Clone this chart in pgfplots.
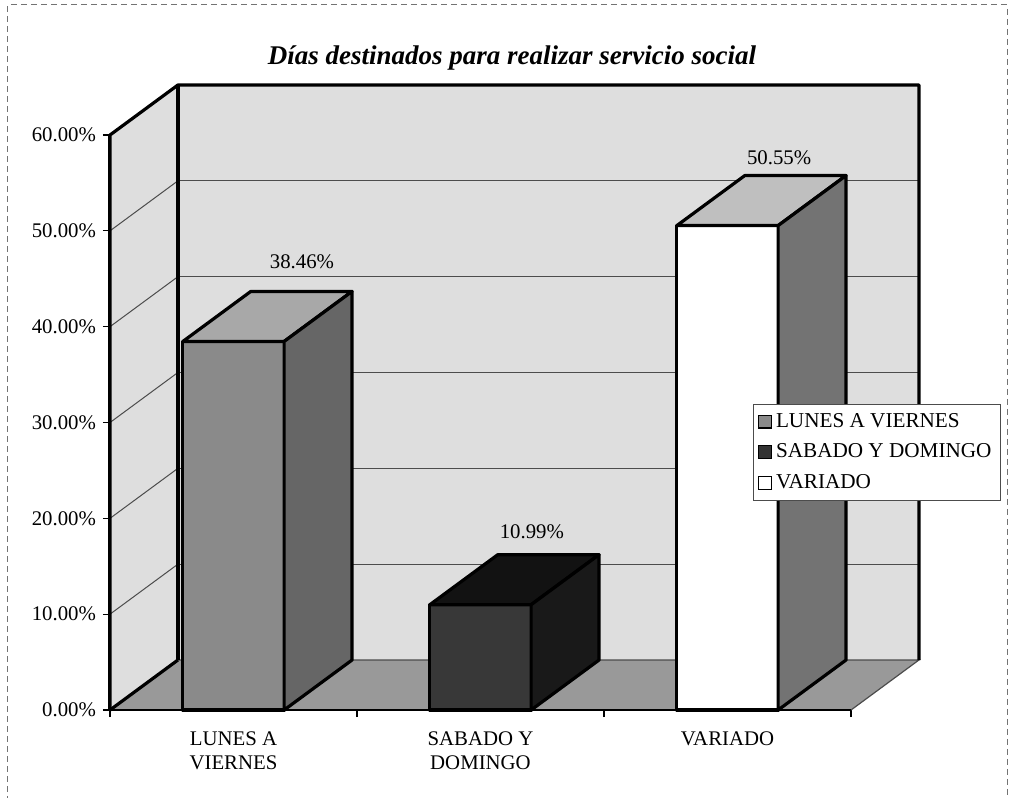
\documentclass[border=0pt]{standalone}
\usepackage{pgfplots}
\pgfplotsset{compat=1.18}
\usepackage{fontspec}
\setmainfont{Liberation Serif}
\definecolor{wall}{gray}{0.87}
\definecolor{floorc}{gray}{0.60}
\begin{document}
\begin{tikzpicture}
\begin{axis}[
  x=123.5pt, y=4.7917pt,
  xmin=0.5, xmax=3.5, ymin=0, ymax=60,
  clip=false,
  axis x line*=bottom, axis y line*=left,
  x axis line style={black, line width=0.6pt},
  y axis line style={black, line width=1.5pt},
  tick align=outside,
  major tick length=3.5pt,
  tick style={black, line width=0.6pt},
  xtick={0.5,1.5,2.5,3.5}, xticklabels={},
  extra x ticks={1,2,3},
  extra x tick labels={{LUNES A\\VIERNES},{SABADO Y\\DOMINGO},{VARIADO}},
  extra x tick style={major tick length=0pt, tick label style={align=center, font=\fontsize{10.4}{11.6}\selectfont, yshift=-7.5pt}},
  ytick={0,10,20,30,40,50,60},
  yticklabel={\pgfmathprintnumber[fixed,fixed zerofill,precision=2]{\tick}\%},
  /pgf/number format/assume math mode=true,
  yticklabel style={font=\fontsize{10.4}{12}\selectfont},
  legend style={at={(axis cs:3.103,31.93)}, anchor=north west, draw=black!70, line width=0.5pt, font=\fontsize{10.6}{12.5}\selectfont, inner sep=2.3pt, row sep=2.8pt, cells={anchor=west}},
  legend image code/.code={\draw[#1, line width=0.6pt] (0pt,-3.2pt) rectangle (6.4pt,3.2pt);},
]
% legend
\addlegendimage{fill=black!46, draw=black}
\addlegendentry{LUNES A VIERNES}
\addlegendimage{fill=black!80, draw=black}
\addlegendentry{SABADO Y DOMINGO}
\addlegendimage{fill=white, draw=black}
\addlegendentry{VARIADO}

% walls and floor
\addplot[forget plot, fill=wall, draw=none] coordinates {(0.5,0) (0.5,60) (0.775,65.22) (0.775,5.22)} -- cycle;
\addplot[forget plot, fill=wall, draw=none] coordinates {(0.775,5.22) (3.775,5.22) (3.775,65.22) (0.775,65.22)} -- cycle;
\addplot[forget plot, fill=floorc, draw=none] coordinates {(0.5,0) (3.5,0) (3.775,5.22) (0.775,5.22)} -- cycle;

% gridlines on back wall and left wall
\addplot[forget plot, black!70, line width=0.5pt] coordinates {(0.775,15.22) (3.775,15.22)};
\addplot[forget plot, black!70, line width=0.5pt] coordinates {(0.775,25.22) (3.775,25.22)};
\addplot[forget plot, black!70, line width=0.5pt] coordinates {(0.775,35.22) (3.775,35.22)};
\addplot[forget plot, black!70, line width=0.5pt] coordinates {(0.775,45.22) (3.775,45.22)};
\addplot[forget plot, black!70, line width=0.5pt] coordinates {(0.775,55.22) (3.775,55.22)};
\addplot[forget plot, black!70, line width=0.5pt] coordinates {(0.5,10) (0.775,15.22)};
\addplot[forget plot, black!70, line width=0.5pt] coordinates {(0.5,20) (0.775,25.22)};
\addplot[forget plot, black!70, line width=0.5pt] coordinates {(0.5,30) (0.775,35.22)};
\addplot[forget plot, black!70, line width=0.5pt] coordinates {(0.5,40) (0.775,45.22)};
\addplot[forget plot, black!70, line width=0.5pt] coordinates {(0.5,50) (0.775,55.22)};
% floor edges
\addplot[forget plot, black!70, line width=0.6pt] coordinates {(0.775,5.22) (3.775,5.22) (3.5,0)};
% thick frame
\addplot[forget plot, black, line width=1.6pt, line join=round] coordinates {(0.5,0) (0.5,60) (0.775,65.22) (3.775,65.22) (3.775,5.22)};
\addplot[forget plot, black, line width=1.6pt] coordinates {(0.775,5.22) (0.775,65.22)};
\addplot[forget plot, black, line width=1.6pt] coordinates {(0.5,0) (0.775,5.22)};

% bar LUNES A VIERNES 38.46
\addplot[forget plot, fill=black!46, draw=black, line width=1.6pt, line join=round] coordinates {(0.795,0) (0.795,38.46) (1.205,38.46) (1.205,0)} -- cycle;
\addplot[forget plot, fill=black!34, draw=black, line width=1.6pt, line join=round] coordinates {(0.795,38.46) (1.07,43.68) (1.48,43.68) (1.205,38.46)} -- cycle;
\addplot[forget plot, fill=black!60, draw=black, line width=1.6pt, line join=round] coordinates {(1.205,0) (1.205,38.46) (1.48,43.68) (1.48,5.22)} -- cycle;
% bar SABADO Y DOMINGO 10.99
\addplot[forget plot, fill=black!78, draw=black, line width=1.6pt, line join=round] coordinates {(1.795,0) (1.795,10.99) (2.205,10.99) (2.205,0)} -- cycle;
\addplot[forget plot, fill=black!93, draw=black, line width=1.6pt, line join=round] coordinates {(1.795,10.99) (2.07,16.21) (2.48,16.21) (2.205,10.99)} -- cycle;
\addplot[forget plot, fill=black!90, draw=black, line width=1.6pt, line join=round] coordinates {(2.205,0) (2.205,10.99) (2.48,16.21) (2.48,5.22)} -- cycle;
% bar VARIADO 50.55
\addplot[forget plot, fill=white, draw=black, line width=1.6pt, line join=round] coordinates {(2.795,0) (2.795,50.55) (3.205,50.55) (3.205,0)} -- cycle;
\addplot[forget plot, fill=black!25, draw=black, line width=1.6pt, line join=round] coordinates {(2.795,50.55) (3.07,55.77) (3.48,55.77) (3.205,50.55)} -- cycle;
\addplot[forget plot, fill=black!55, draw=black, line width=1.6pt, line join=round] coordinates {(3.205,0) (3.205,50.55) (3.48,55.77) (3.48,5.22)} -- cycle;

% front baseline
\addplot[forget plot, black, line width=0.6pt] coordinates {(0.5,0) (3.5,0)};

% value labels
\node[font=\fontsize{10.4}{12}\selectfont] at (axis cs:1.277,46.75) {38.46\%};
\node[font=\fontsize{10.4}{12}\selectfont] at (axis cs:2.208,18.57) {10.99\%};
\node[font=\fontsize{10.4}{12}\selectfont] at (axis cs:3.209,57.6) {50.55\%};

% title
\node[anchor=base, font=\fontsize{13.5}{16}\selectfont\bfseries\itshape] at (axis cs:2.1275,67.4) {Días destinados para realizar servicio social};

% outer frame
\draw[black!55, densely dashed, line width=0.5pt] (axis cs:0.087,-9.6) -- (axis cs:0.087,73.57) -- (axis cs:4.1316,73.57) -- (axis cs:4.1316,-9.6);

\coordinate (BL) at (axis cs:0.05466,-9.078);
\coordinate (TR) at (axis cs:4.1640,74.09);
\end{axis}
\pgfresetboundingbox
\path[use as bounding box] (BL) rectangle (TR);
\end{tikzpicture}
\end{document}
